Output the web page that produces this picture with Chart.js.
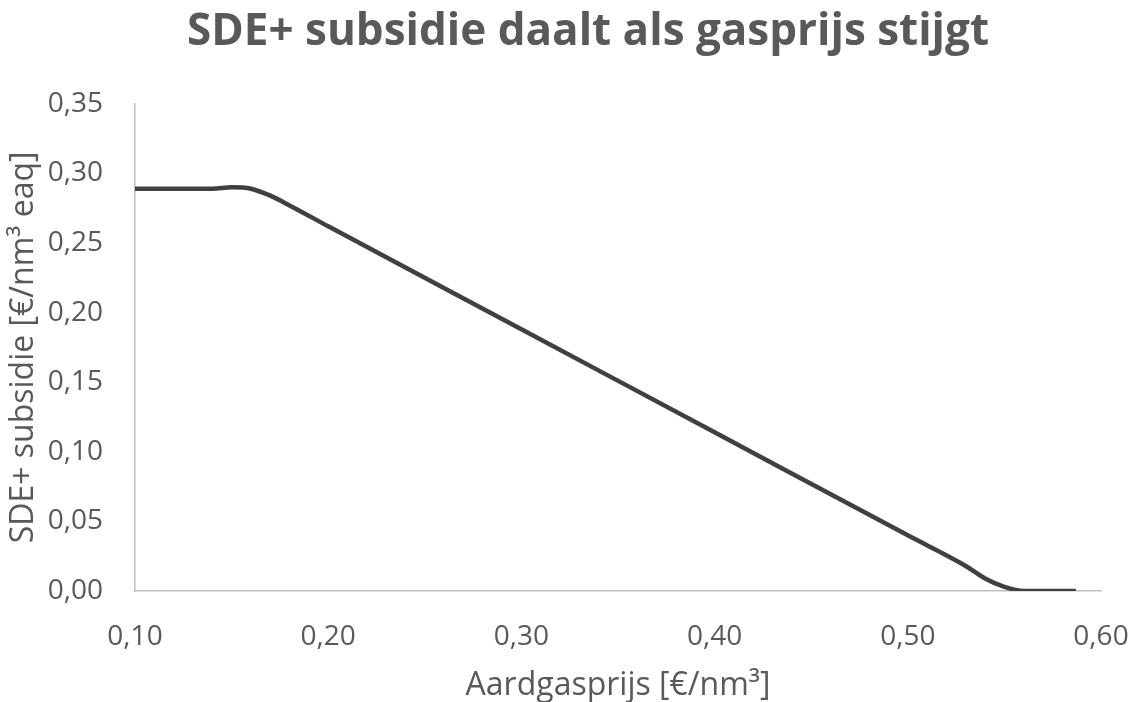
<!DOCTYPE html>
<html>
<head>
<meta charset="utf-8">
<script src="https://cdn.jsdelivr.net/npm/chart.js@4/dist/chart.umd.min.js"></script>
<style>
  html, body { margin: 0; padding: 0; background: #fff; }
  #wrap { width: 1136px; height: 702px; }
</style>
</head>
<body>
<div id="wrap"><canvas id="myChart" width="1136" height="702"></canvas></div>
<script>
// gas price [€/nm³] and SDE+ subsidy [€/nm³ eaq]
const gasPrices = [0.10, 0.12, 0.14, 0.15, 0.16, 0.17, 0.18, 0.20, 0.30, 0.40, 0.50, 0.53, 0.54, 0.55, 0.56, 0.57, 0.587];
const subsidy   = [0.289, 0.289, 0.289, 0.290, 0.289, 0.284, 0.277, 0.262, 0.188, 0.114, 0.040, 0.018, 0.009, 0.003, 0.000, 0.000, 0.000];

const xTicks = [0.10, 0.20, 0.30, 0.40, 0.50, 0.60];
const yTicks = [0.00, 0.05, 0.10, 0.15, 0.20, 0.25, 0.30, 0.35];

const grey = '#595959';
const fmt = v => v.toFixed(2).replace('.', ',');

const ctx = document.getElementById("myChart").getContext("2d");

const data = {
    datasets: [{
        label: "SDE+ subsidie",
        data: gasPrices.map((x, i) => ({ x: x, y: subsidy[i] })),
        borderColor: '#404040',
        borderWidth: 4.5,
        pointRadius: 0,
        cubicInterpolationMode: 'monotone',
        fill: false,
    }],
};

const config = {
    type: 'line',
    data: data,
    options: {
        responsive: false,
        animation: false,
        // extra left padding shifts the centred title to the right, like the original
        layout: { padding: { left: 40, right: 0, top: 0, bottom: 0 } },
        plugins: {
            legend: { display: false },
            tooltip: { enabled: false },
            title: {
                display: true,
                text: 'SDE+ subsidie daalt als gasprijs stijgt',
                color: grey,
                font: { family: 'Open Sans', size: 44, weight: 'bold', lineHeight: 1.2 },
                padding: { top: 6, bottom: 45 },
            },
        },
        scales: {
            x: {
                type: 'linear',
                min: 0.10,
                max: 0.60,
                afterBuildTicks: s => { s.ticks = xTicks.map(v => ({ value: v })); },
                afterFit: s => { s.height = 111; s.paddingRight = 35; },
                grid: { display: false, drawTicks: false },
                border: { display: true, color: '#bfbfbf', width: 1.5 },
                ticks: {
                    color: grey,
                    padding: 29,
                    font: { family: 'Open Sans', size: 28 },
                    callback: v => fmt(v),
                },
                title: {
                    display: true,
                    text: 'Aardgasprijs [€/nm³]',
                    color: grey,
                    font: { family: 'Open Sans', size: 32, lineHeight: 1.0 },
                    padding: { top: 0, bottom: 0 },
                },
            },
            y: {
                min: 0,
                max: 0.35,
                afterBuildTicks: s => { s.ticks = yTicks.map(v => ({ value: v })); },
                afterFit: s => { s.width = 95; },
                grid: { display: false, drawTicks: false },
                border: { display: true, color: '#bfbfbf', width: 1.5 },
                ticks: {
                    color: grey,
                    padding: 32,
                    font: { family: 'Open Sans', size: 28 },
                    callback: v => fmt(v),
                },
                title: {
                    display: true,
                    text: 'SDE+ subsidie [€/nm³ eaq]',
                    color: grey,
                    font: { family: 'Open Sans', size: 32, lineHeight: 1.0 },
                    padding: { top: -32, bottom: 0 },
                },
            },
        },
    },
};

const myChart = new Chart(ctx, config);
</script>
</body>
</html>
